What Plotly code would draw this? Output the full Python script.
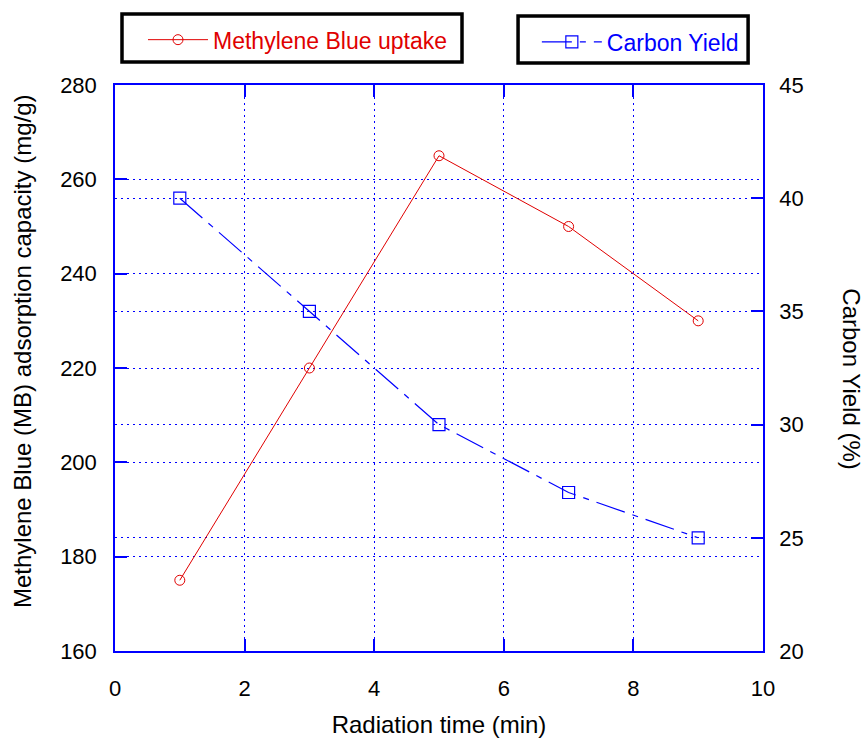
import plotly.graph_objects as go

time_min = [1, 3, 5, 7, 9]
mb_uptake = [175, 220, 265, 250, 230]
carbon_yield = [40, 35, 30, 27, 25]

x_ticks = [0, 2, 4, 6, 8, 10]
left_ticks = [160, 180, 200, 220, 240, 260, 280]
right_ticks = [20, 25, 30, 35, 40, 45]

FONT = "Liberation Sans, Arial, sans-serif"
BLUE = "#0000ff"
RED = "#e00000"

fig = go.Figure()
fig.add_trace(go.Scatter(
    x=time_min, y=mb_uptake, name="Methylene Blue uptake",
    mode="lines+markers", showlegend=True,
    line=dict(color=RED, width=1),
    marker=dict(symbol="circle-open", size=10, color=RED, line=dict(width=1)),
    legend="legend",
))
fig.add_trace(go.Scatter(
    x=time_min, y=carbon_yield, name="Carbon Yield",
    mode="lines+markers", yaxis="y2", showlegend=True,
    line=dict(color=BLUE, width=1.2, dash="30px,8px,6px,8px"),
    marker=dict(symbol="square-open", size=12, color=BLUE, line=dict(width=1.2)),
    legend="legend2",
))

axis_common = dict(
    showline=True, linecolor=BLUE, linewidth=1.5,
    ticks="inside", ticklen=12, tickcolor=BLUE, tickwidth=1.5,
    showgrid=True, gridcolor=BLUE, griddash="2px,4px", gridwidth=1,
    zeroline=False, automargin=False,
    tickfont=dict(family=FONT, size=22, color="black"),
)

fig.update_layout(
    width=868, height=738,
    paper_bgcolor="white", plot_bgcolor="white",
    margin=dict(l=115, r=105, t=85, b=87),
    font=dict(family=FONT, size=22, color="black"),
    showlegend=True,
    xaxis=dict(range=[0, 10], tickvals=x_ticks, mirror="ticks", ticklabelstandoff=17,
               title=dict(text="Radiation time (min)", font=dict(size=24), standoff=16),
               **axis_common),
    yaxis=dict(range=[160, 280], tickvals=left_ticks, ticklabelstandoff=12,
               **axis_common),
    yaxis2=dict(range=[20, 45], tickvals=right_ticks, overlaying="y", side="right",
                ticklabelstandoff=10, **axis_common),
    legend=dict(x=0.0432, y=1.080, xanchor="left", yanchor="middle",
                bgcolor="rgba(0,0,0,0)", borderwidth=0,
                font=dict(family=FONT, size=23, color=RED), itemwidth=60),
    legend2=dict(x=0.651, y=1.076, xanchor="left", yanchor="middle",
                 bgcolor="rgba(0,0,0,0)", borderwidth=0,
                 font=dict(family=FONT, size=23, color=BLUE), itemwidth=60),
    shapes=[
        dict(type="rect", xref="paper", yref="paper",
             x0=0.0108, x1=0.5355, y0=1.0406, y1=1.1254,
             line=dict(color="black", width=3.5)),
        dict(type="rect", xref="paper", yref="paper",
             x0=0.622, x1=0.977, y0=1.039, y1=1.122,
             line=dict(color="black", width=3.5)),
    ],
    annotations=[
        dict(text="Methylene Blue (MB) adsorption capacity (mg/g)",
             xref="paper", yref="paper",
             x=-0.1435, y=0.530, xanchor="center", yanchor="middle",
             textangle=-90, showarrow=False,
             font=dict(family=FONT, size=24, color="black")),
        dict(text="Carbon Yield (%)", xref="paper", yref="paper",
             x=1.1373, y=0.48, xanchor="center", yanchor="middle",
             textangle=90, showarrow=False,
             font=dict(family=FONT, size=24, color="black")),
    ],
)

fig.write_html("out.html", config={"displayModeBar": False},
               post_script="document.body.style.margin='0';")
